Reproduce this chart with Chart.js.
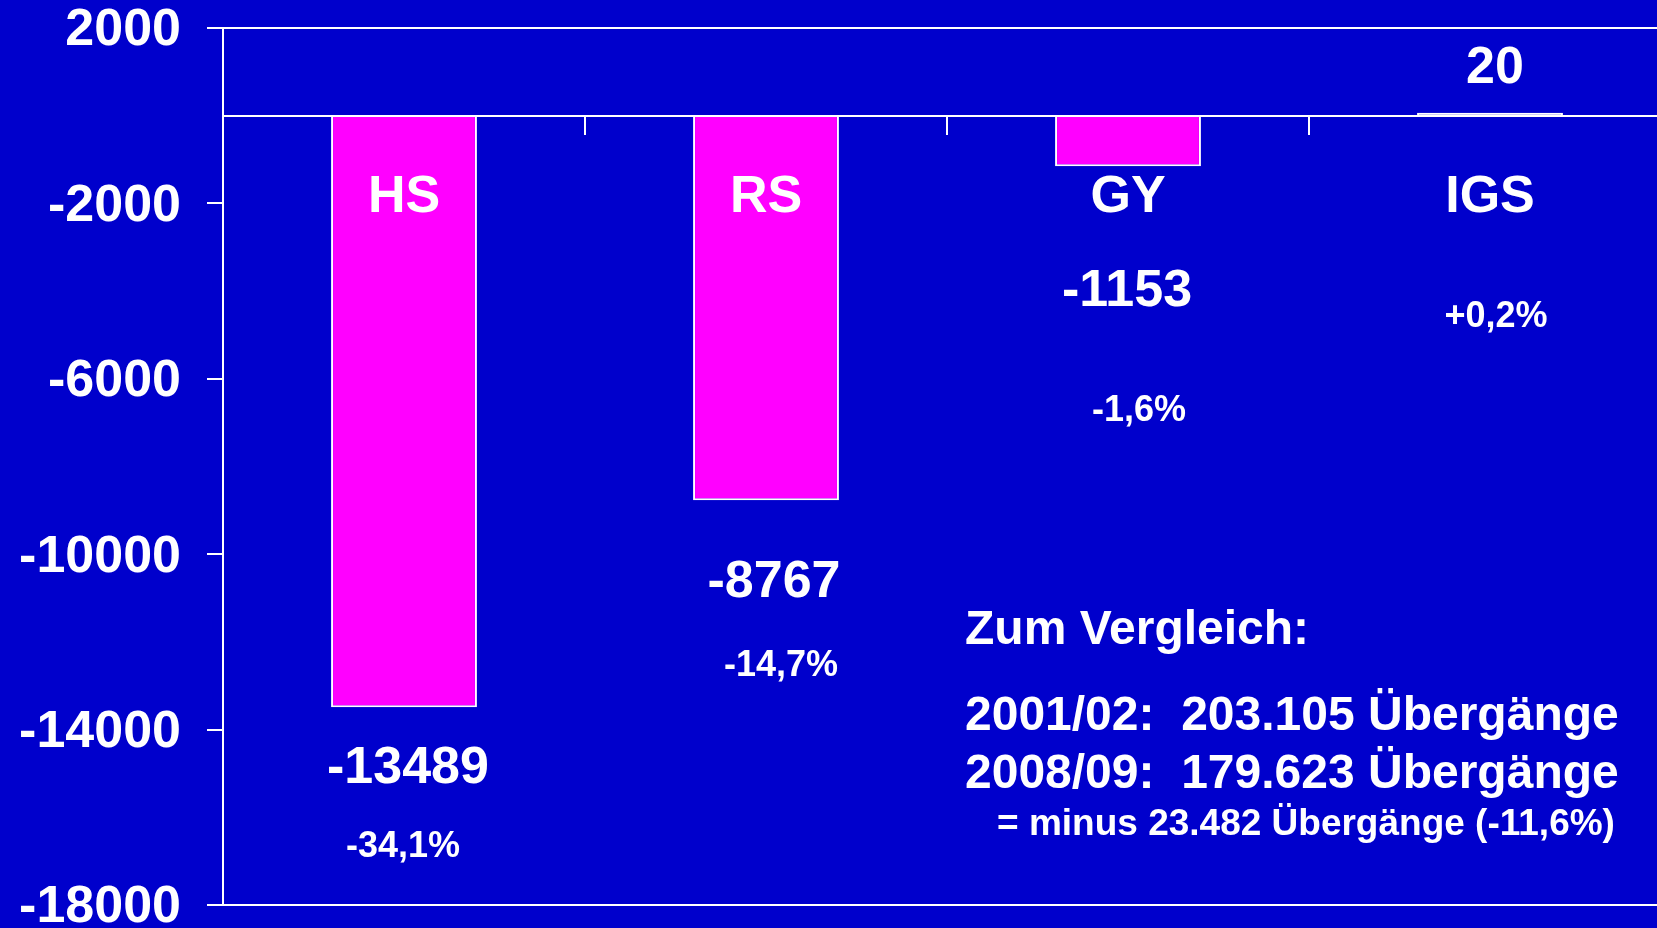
<!DOCTYPE html>
<html>
<head>
<meta charset="utf-8">
<script src="https://cdn.jsdelivr.net/npm/chart.js@4.4.0/dist/chart.umd.min.js"></script>
<style>
  html, body { margin: 0; padding: 0; background: #0000CC; overflow: hidden; }
  #wrap { position: relative; width: 1680px; height: 928px; }
</style>
</head>
<body>
<div id="wrap"><canvas id="chart"></canvas></div>
<script>
var categories = ["HS", "RS", "GY", "IGS"];
var changes = [-13489, -8767, -1153, 20];
var percentLabels = ["-34,1%", "-14,7%", "-1,6%", "+0,2%"];
var yTicks = [2000, -2000, -6000, -10000, -14000, -18000];

// where the value / percent labels sit (axis units) and small sideways nudges (px)
var valueLabelAt = [-14824, -10576, -3952, 1151];
var percentLabelAt = [-16605, -12494, -6670, -4523];
var valueLabelNudge = [4, 8, -1, 5];
var percentLabelNudge = [-1, 15, 11, 6];

var noteLines = [
  "Zum Vergleich:",
  "2001/02:  203.105 Übergänge",
  "2008/09:  179.623 Übergänge",
  "= minus 23.482 Übergänge (-11,6%)"
];

var FONT = '"Liberation Sans", Arial, sans-serif';
var WHITE = "#FFFFFF";
var DROP = 3; // canvas 'middle' sits a bit high for these caps

var labelsPlugin = {
  id: "barTexts",
  afterDatasetsDraw: function (chart) {
    var ctx = chart.ctx, xs = chart.scales.x, ys = chart.scales.y;
    ctx.save();
    ctx.fillStyle = WHITE;
    ctx.textAlign = "center";
    ctx.textBaseline = "middle";
    ctx.font = "bold 52px " + FONT;
    for (var i = 0; i < changes.length; i++) {
      ctx.fillText(String(changes[i]), xs.getPixelForValue(i) + valueLabelNudge[i], ys.getPixelForValue(valueLabelAt[i]) + DROP);
    }
    ctx.font = "bold 36px " + FONT;
    for (var j = 0; j < percentLabels.length; j++) {
      ctx.fillText(percentLabels[j], xs.getPixelForValue(j) + percentLabelNudge[j], ys.getPixelForValue(percentLabelAt[j]) + DROP);
    }
    // comparison note
    ctx.textAlign = "left";
    ctx.font = "bold 48px " + FONT;
    ctx.fillText(noteLines[0], 965, 628 + DROP);
    ctx.fillText(noteLines[1], 965, 714 + DROP);
    ctx.fillText(noteLines[2], 965, 772 + DROP);
    ctx.font = "bold 37px " + FONT;
    ctx.fillText(noteLines[3], 997, 822 + DROP);
    ctx.restore();
  }
};

new Chart(document.getElementById("chart").getContext("2d"), {
  type: "bar",
  data: {
    labels: categories,
    datasets: [{
      data: changes,
      // a bar this thin shows only its white outline
      backgroundColor: function (c) { return Math.abs(c.raw) < 100 ? WHITE : "#FF00FF"; },
      borderColor: WHITE,
      borderWidth: 2,
      minBarLength: 3,
      categoryPercentage: 1,
      barPercentage: 0.403
    }]
  },
  options: {
    responsive: true,
    maintainAspectRatio: false,
    animation: false,
    layout: { padding: { left: 0, right: 9, top: 28, bottom: 23 } },
    plugins: { legend: { display: false }, tooltip: { enabled: false } },
    scales: {
      x: {
        position: { y: 0 },
        grid: { offset: true, drawOnChartArea: false, color: WHITE, lineWidth: 2, tickLength: 18 },
        border: { color: WHITE, width: 2, z: 1 },
        ticks: { color: WHITE, font: { family: FONT, size: 52, weight: "bold" }, padding: 33, z: 1 }
      },
      y: {
        min: -18000,
        max: 2000,
        afterBuildTicks: function (s) { s.ticks = yTicks.map(function (v) { return { value: v }; }); },
        afterFit: function (s) { s.width = 223; s.paddingTop = 0; s.paddingBottom = 0; },
        grid: {
          color: function (c) { return (c.tick && (c.tick.value === 2000 || c.tick.value === -18000)) ? WHITE : "rgba(0,0,0,0)"; },
          tickColor: WHITE,
          lineWidth: 2,
          tickLength: 16
        },
        border: { color: WHITE, width: 2 },
        ticks: {
          color: WHITE,
          font: { family: FONT, size: 52, weight: "bold", lineHeight: 1 },
          padding: 26,
          labelOffset: 3,
          callback: function (v) { return String(v); }
        }
      }
    }
  },
  plugins: [labelsPlugin]
});
</script>
</body>
</html>
